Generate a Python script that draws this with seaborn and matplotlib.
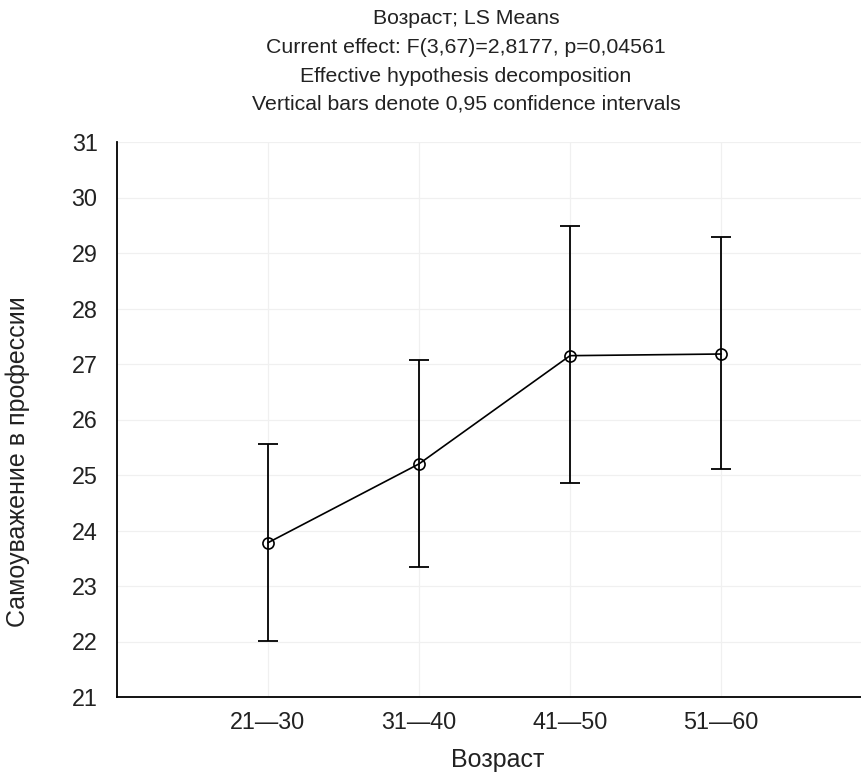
import matplotlib
matplotlib.use("Agg")
import matplotlib.pyplot as plt
import seaborn as sns
import pandas as pd
import numpy as np

categories = ["21—30", "31—40", "41—50", "51—60"]
means = [23.78, 25.20, 27.15, 27.18]
lower = [22.01, 23.35, 24.86, 25.11]
upper = [25.55, 27.08, 29.49, 29.28]
yticks = [21, 22, 23, 24, 25, 26, 27, 28, 29, 30, 31]
title_lines = ["Возраст; LS Means",
               "Current effect: F(3,67)=2,8177, p=0,04561",
               "Effective hypothesis decomposition",
               "Vertical bars denote 0,95 confidence intervals"]
xlabel = "Возраст"
ylabel = "Самоуважение в профессии"

sns.set_theme(style="white")
plt.rcParams["font.family"] = ["Liberation Sans", "DejaVu Sans"]
FS_TITLE = 15.3
FS_TICK = 16.8
FS_LABEL = 18
TC = "#222222"

pos = np.arange(1, len(categories) + 1)
df = pd.DataFrame({"pos": pos, "mean": means, "lo": lower, "hi": upper})

fig = plt.figure(figsize=(8.62, 7.75), dpi=100)
ax = fig.add_axes([117 / 862, 1 - 697 / 775, 755 / 862, (697 - 142) / 775])

ax.errorbar(df["pos"], df["mean"],
            yerr=[df["mean"] - df["lo"], df["hi"] - df["mean"]],
            fmt="none", ecolor="black", elinewidth=1.3, capsize=7, capthick=1.3, zorder=3)
sns.lineplot(data=df, x="pos", y="mean", ax=ax, color="black", linewidth=1.2,
             marker="o", markersize=8, markerfacecolor="none",
             markeredgecolor="black", markeredgewidth=1.2, zorder=4)

ax.set_xlim(0, 5)
ax.set_ylim(21, 31)
ax.set_xticks(pos)
ax.set_xticklabels(categories)
ax.set_yticks(yticks)
ax.set_yticklabels([str(t) for t in yticks])
ax.grid(True, color="#f0f0f0", linewidth=0.9)
ax.set_axisbelow(True)

for s in ["top", "right"]:
    ax.spines[s].set_visible(False)
for s in ["left", "bottom"]:
    ax.spines[s].set_visible(True)
    ax.spines[s].set_color("black")
    ax.spines[s].set_linewidth(1.3)

ax.tick_params(axis="both", direction="in", length=4, width=1, color="black",
               labelsize=FS_TICK, labelcolor=TC)
ax.tick_params(axis="y", pad=14)
ax.tick_params(axis="x", pad=10)

ax.set_xlabel(xlabel, fontsize=FS_LABEL, color=TC, va="center")
ax.xaxis.set_label_coords((498 - 117) / 755, (697 - 760) / 555)
ax.set_ylabel(ylabel, fontsize=FS_LABEL, color=TC, va="center")
ax.yaxis.set_label_coords((18 - 117) / 755, (697 - 462) / 555)

ys = [19, 47.5, 76, 104]
for line, y in zip(title_lines, ys):
    fig.text(466 / 862, 1 - y / 775, line, ha="center", va="center", fontsize=FS_TITLE, color=TC)

fig.savefig("out.png", dpi=100)
